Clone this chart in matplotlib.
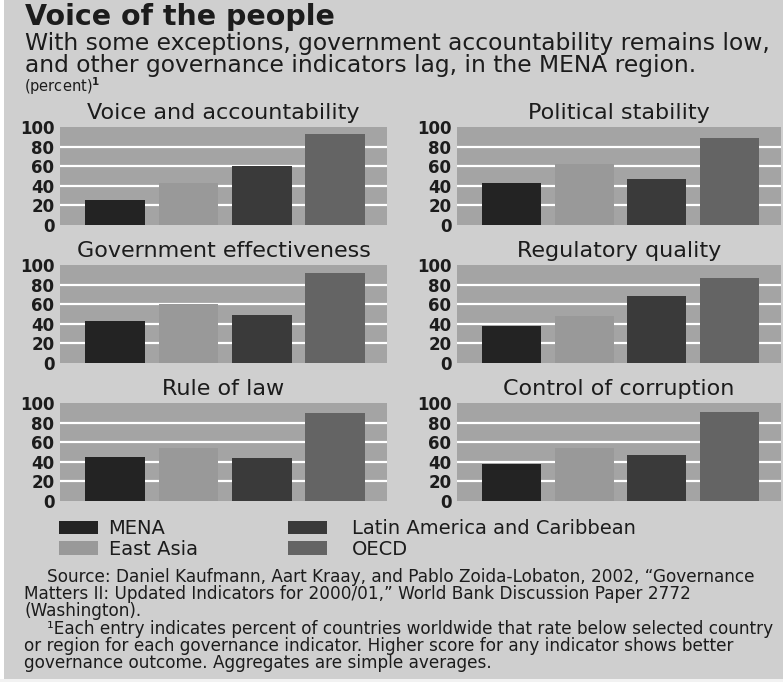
import numpy as np
import matplotlib as mpl
mpl.use('Agg')
import matplotlib.pyplot as plt
from matplotlib.patches import Rectangle

# governance scores: percent of countries rating below each region
regions = ['MENA', 'East Asia', 'Latin America and Caribbean', 'OECD']
indicators = ['Voice and accountability', 'Political stability',
              'Government effectiveness', 'Regulatory quality',
              'Rule of law', 'Control of corruption']
mena = [26, 43, 43, 38, 45, 38]
east_asia = [43, 62, 60, 48, 54, 54]
latin_america = [60, 47, 49, 68, 44, 47]
oecd = [93, 89, 92, 87, 90, 91]
yticks = [0, 20, 40, 60, 80, 100]

source_lines = [
    'Source: Daniel Kaufmann, Aart Kraay, and Pablo Zoida-Lobaton, 2002, \u201cGovernance',
    'Matters II: Updated Indicators for 2000/01,\u201d World Bank Discussion Paper 2772',
    '(Washington).',
    '\u00b9Each entry indicates percent of countries worldwide that rate below selected country',
    'or region for each governance indicator. Higher score for any indicator shows better',
    'governance outcome. Aggregates are simple averages.',
]
indented = [True, False, False, True, False, False]

BG = '#cfcfcf'
PLOT_BG = '#a4a4a4'
TEXT = '#1c1c1c'
bar_colors = ['#232323', '#999999', '#3a3a3a', '#646464']

W, H = 783, 682
fig = plt.figure(figsize=(W / 100, H / 100), dpi=100, facecolor=BG)


def fx(px):
    return px / W


def fy(py):
    return 1 - py / H


def box(x0, y0, x1, y1):
    return [x0 / W, 1 - y1 / H, (x1 - x0) / W, (y1 - y0) / H]


# thin white strips along the left and bottom edges
fig.patches.append(Rectangle((0, 0), fx(4), 1, transform=fig.transFigure,
                             facecolor='white', edgecolor='none', zorder=0))
fig.patches.append(Rectangle((0, 0), 1, 3 / H, transform=fig.transFigure,
                             facecolor='#f2f2f2', edgecolor='none', zorder=0))

cols = [(60, 387), (457, 781)]
rows = [(127, 225), (265, 363), (403, 501)]

x = np.arange(len(regions))
handles = None
for i, name in enumerate(indicators):
    c0, c1 = cols[i % 2]
    r0, r1 = rows[i // 2]
    ax = fig.add_axes(box(c0, r0, c1, r1))
    ax.set_facecolor(PLOT_BG)
    vals = [mena[i], east_asia[i], latin_america[i], oecd[i]]
    for g in yticks[1:-1]:
        ax.axhline(g, color='white', lw=1.6, zorder=1)
    bars = ax.bar(x, vals, width=0.81, color=bar_colors, zorder=2)
    if handles is None:
        handles = list(bars)
    ax.set_xlim(-0.747, 3.705)
    ax.set_ylim(0, 100)
    ax.set_xticks([])
    ax.set_yticks(yticks)
    for s in ax.spines.values():
        s.set_visible(False)
    ax.tick_params(axis='y', length=0, pad=4, labelsize=12, labelcolor=TEXT)
    for lbl in ax.get_yticklabels():
        lbl.set_fontweight('bold')
    ax.set_title(name, fontsize=16, color=TEXT, pad=6)

fig.text(fx(25), fy(25), 'Voice of the people', fontsize=20.5,
         weight='bold', color=TEXT, va='baseline')
fig.text(fx(25), fy(50), 'With some exceptions, government accountability remains low,',
         fontsize=16.8, color=TEXT, va='baseline')
fig.text(fx(25), fy(72), 'and other governance indicators lag, in the MENA region.',
         fontsize=16.8, color=TEXT, va='baseline')
fig.text(fx(24), fy(92), '(percent)$^{\\mathbf{1}}$', fontsize=10.5,
         color=TEXT, va='baseline')

# legend in two columns, each with its own spacing
legend_opts = dict(loc='upper left', frameon=False, fontsize=14,
                   handlelength=2.0, handleheight=0.68, labelspacing=0.1,
                   borderpad=0, borderaxespad=0, labelcolor=TEXT)
fig.legend(handles[:2], regions[:2], bbox_to_anchor=(fx(59), fy(519)),
           handletextpad=0.55, **legend_opts)
fig.legend(handles[2:], regions[2:], bbox_to_anchor=(fx(288), fy(519)),
           handletextpad=1.3, **legend_opts)

for k, line in enumerate(source_lines):
    fig.text(fx(47 if indented[k] else 24), fy(582 + k * 17.2), line,
             fontsize=12.15, color=TEXT, va='baseline')

plt.savefig('out.png', dpi=100, facecolor=BG)
